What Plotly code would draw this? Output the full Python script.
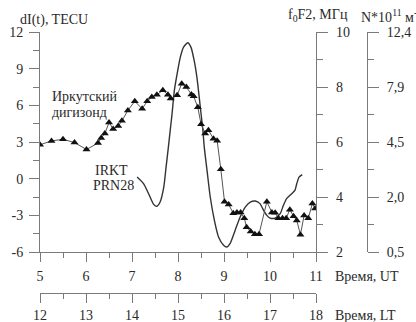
import plotly.graph_objects as go

# ---- data ----
ut_tri = [5.00, 5.25, 5.50, 5.75, 6.01, 6.26, 6.33, 6.41, 6.50, 6.59, 6.70, 6.78, 6.91, 7.06, 7.22,
          7.33, 7.43, 7.54, 7.67, 7.78, 7.84, 7.98, 8.08, 8.18, 8.29, 8.34, 8.43, 8.50, 8.59, 8.66,
          8.77, 8.85, 8.93, 9.01, 9.10, 9.20, 9.28, 9.36, 9.44, 9.49, 9.58, 9.67, 9.76, 9.93, 10.04,
          10.11, 10.18, 10.27, 10.35, 10.43, 10.51, 10.58, 10.66, 10.74, 10.83, 10.92, 10.98]
fof2_tri = [5.90, 6.04, 6.10, 5.98, 5.73, 5.96, 6.15, 6.31, 6.71, 6.47, 6.58, 6.77, 7.15, 7.48, 7.21,
            7.48, 7.64, 7.72, 7.88, 7.72, 7.58, 7.70, 8.12, 8.00, 7.73, 7.66, 7.26, 6.65, 6.31, 6.43,
            6.12, 6.05, 5.01, 3.83, 3.73, 3.41, 3.44, 3.44, 3.23, 2.90, 2.75, 2.65, 2.65, 3.83, 3.44,
            3.43, 3.23, 3.23, 3.23, 3.54, 3.30, 3.15, 2.63, 3.33, 3.23, 3.76, 3.58]

ut_line = [7.11, 7.25, 7.36, 7.47, 7.54, 7.61, 7.69, 7.74, 7.79, 7.83, 7.87, 7.92, 7.98, 8.05, 8.12,
           8.21, 8.28, 8.35, 8.41, 8.46, 8.50, 8.54, 8.57, 8.63, 8.70, 8.79, 8.88, 8.99, 9.06, 9.13,
           9.24, 9.35, 9.46, 9.57, 9.68, 9.78, 9.86, 9.93, 10.00, 10.11, 10.22, 10.29, 10.36, 10.47,
           10.54, 10.58, 10.63, 10.70]
di_line = [0.13, -0.41, -1.23, -2.10, -2.26, -1.91, -0.69, 0.95, 2.58, 3.95, 5.31, 7.22, 8.58, 9.94, 10.76,
           11.12, 10.76, 9.67, 8.31, 6.67, 5.31, 3.95, 2.58, 0.68, -1.50, -3.41, -4.77, -5.45, -5.59, -5.31,
           -4.23, -3.14, -2.32, -1.91, -1.83, -2.04, -2.59, -3.00, -3.22, -3.22, -2.86, -2.18, -1.63, -1.23,
           -0.96, -0.41, 0.13, 0.33]

ut_ticks = [5, 6, 7, 8, 9, 10, 11]
lt_ticks = [12, 13, 14, 15, 16, 17, 18]
tec_ticks = [-6, -3, 0, 3, 6, 9, 12]
tec_labels = ["-6", "-3", "0", "3", "6", "9", "12"]
fof2_ticks = [2, 4, 6, 8, 10]
fof2_labels = ["2", "4", "6", "8", "10"]
n_labels = ["0,5", "2,0", "4,5", "7,9", "12,4"]

# ---- geometry (pixels) ----
W, H = 416, 322
L, R = 39.5, 367.0          # paper x range
T, B = 31.5, 292.7          # paper y range
X_END = 316.0               # end of UT axis / foF2 axis
Y_BOT = 251.7               # UT axis

def px(x):
    return (x - L) / (R - L)

def py(y):
    return (B - y) / (B - T)

FONT = "Liberation Serif"
AX = "#7a7a7a"
TXT = "#2a2a2a"

fig = go.Figure()
fig.add_trace(go.Scatter(
    x=ut_tri, y=fof2_tri, xaxis="x", yaxis="y2", mode="lines+markers",
    line=dict(color="#555555", width=1),
    marker=dict(symbol="triangle-up", size=7, color="#111111"),
    showlegend=False))
fig.add_trace(go.Scatter(
    x=ut_line, y=di_line, xaxis="x", yaxis="y", mode="lines",
    line=dict(color="#333333", width=1.4, shape="spline", smoothing=0.6),
    showlegend=False))
fig.add_trace(go.Scatter(x=[12, 18], y=[0, 0], xaxis="x2", yaxis="y", mode="markers",
                         marker=dict(opacity=0), showlegend=False, hoverinfo="skip"))
fig.add_trace(go.Scatter(x=[5, 11], y=[2, 2], xaxis="x", yaxis="y3", mode="markers",
                         marker=dict(opacity=0), showlegend=False, hoverinfo="skip"))

common_tick = dict(ticks="outside", tickcolor=AX, tickwidth=1, showline=True, linecolor=AX,
                   linewidth=1, showgrid=False, zeroline=False, automargin=False,
                   tickfont=dict(family=FONT, size=14, color=TXT))
ydom = [py(Y_BOT), 1]
xdom = [0, px(X_END)]

fig.update_layout(
    width=W, height=H,
    font=dict(family=FONT, size=14, color=TXT),
    margin=dict(l=L, r=W - R, t=T, b=H - B, pad=0, autoexpand=False),
    paper_bgcolor="white", plot_bgcolor="white",
    xaxis=dict(domain=xdom, range=[5, 11], anchor="y", tickvals=ut_ticks, ticklen=9,
               ticklabelstandoff=2,
               minor=dict(dtick=0.5, tick0=5, ticklen=5, ticks="outside", tickcolor=AX),
               **common_tick),
    xaxis2=dict(domain=xdom, range=[12, 18], anchor="free", position=0, overlaying="x",
                side="bottom", tickvals=lt_ticks, ticklen=9, ticklabelstandoff=0,
                minor=dict(dtick=0.5, tick0=12, ticklen=5, ticks="outside", tickcolor=AX),
                **common_tick),
    yaxis=dict(domain=ydom, range=[-6, 12], anchor="x", tickvals=tec_ticks, ticktext=tec_labels,
               ticklen=10, ticklabelstandoff=3,
               minor=dict(dtick=1.5, tick0=-6, ticklen=6, ticks="outside", tickcolor=AX),
               **common_tick),
    yaxis2=dict(domain=ydom, range=[2, 10], anchor="x", overlaying="y", side="right",
                tickvals=fof2_ticks, ticktext=fof2_labels, ticklen=11, ticklabelstandoff=5,
                minor=dict(dtick=1, tick0=2, ticklen=6, ticks="outside", tickcolor=AX),
                **common_tick),
    yaxis3=dict(domain=ydom, range=[2, 10], anchor="free", position=1, overlaying="y",
                side="right", tickvals=fof2_ticks, ticktext=n_labels, ticklen=11,
                ticklabelstandoff=5,
                minor=dict(dtick=1, tick0=2, ticklen=6, ticks="outside", tickcolor=AX),
                **common_tick),
)

def ann(text, x, y, xanchor="left", size=14):
    fig.add_annotation(text=text, x=px(x), y=py(y), xref="paper", yref="paper",
                       xanchor=xanchor, yanchor="middle", showarrow=False,
                       font=dict(family=FONT, size=size, color=TXT))

ann("dI(t), TECU", 17, 19.5)
ann("f<sub>0</sub>F2, МГц", 286, 15)
ann("N*10<sup>11</sup> м<sup>-3</sup>", 359, 15)
ann("Иркутский", 50, 96)
ann("дигизонд", 50, 112)
ann("IRKT", 93, 170)
ann("PRN28", 91, 185)
ann("Время, UT", 333, 276.5)
ann("Время, LT", 333, 315.5)

fig.write_html("out.html")
